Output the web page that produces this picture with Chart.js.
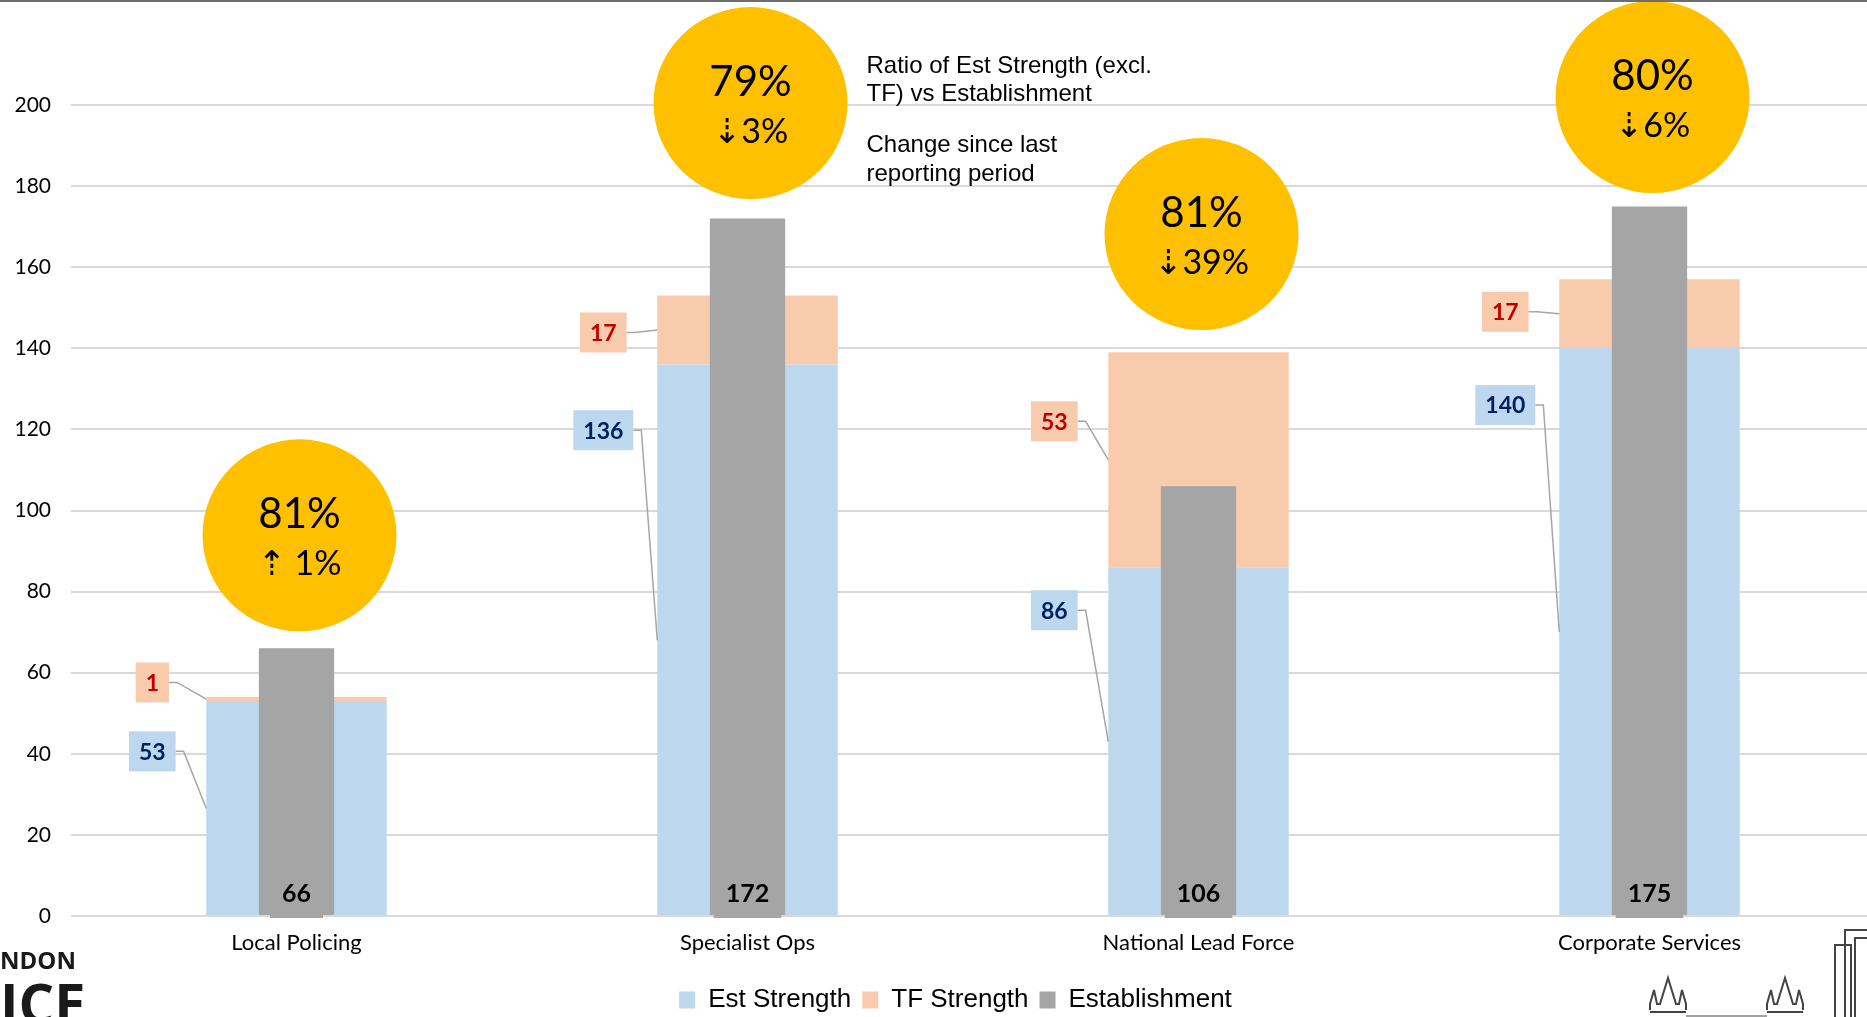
<!DOCTYPE html>
<html>
<head>
<meta charset="utf-8">
<script src="https://cdn.jsdelivr.net/npm/chart.js@4.4.0/dist/chart.umd.min.js"></script>
<style>
  html, body { margin: 0; padding: 0; background: #fff; overflow: hidden; }
  #wrap { position: relative; width: 1880px; height: 1017px; }
  #topline { position: absolute; left: 0; top: 0; width: 1867px; height: 2px; background: #6d6d6d; }
  .logo { position: absolute; left: 0; font-family: "Open Sans", sans-serif; font-weight: 700; color: #1a1a1a; line-height: 1; }
  #deco { position: absolute; left: 1640px; top: 920px; }
</style>
</head>
<body>
<div id="wrap">
  <canvas id="strengthChart"></canvas>
  <div id="topline"></div>
  <div class="logo" style="top:948px;font-size:24px;">NDON</div>
  <div class="logo" style="top:974px;font-size:56px;">ICE</div>
  <svg id="deco" width="227" height="97" fill="none" stroke="#444" stroke-width="2">
    <polyline points="10,90 10,84 14,70 17,84 20,84 28,58 36,84 39,84 42,70 46,84 46,90" />
    <line x1="10" y1="92" x2="46" y2="92" />
    <polyline points="127,90 127,84 131,70 134,84 137,84 145,58 153,84 156,84 159,70 163,84 163,90" />
    <line x1="127" y1="92" x2="163" y2="92" />
    <line x1="46" y1="96" x2="127" y2="96" stroke-width="1" />
    <polyline points="195,97 195,25 211,25 211,97" />
    <polyline points="205,97 205,10 227,10" />
    <polyline points="215,97 215,18 227,18" />
  </svg>
</div>
<script>
// values
const categories = ["Local Policing", "Specialist Ops", "National Lead Force", "Corporate Services"];
const estStrength = [53, 136, 86, 140];
const tfStrength = [1, 17, 53, 17];
const establishment = [66, 172, 106, 175];
const ratioText = ["81%", "79%", "81%", "80%"];
const changeText = ["\u21E1 1%", "\u21E33%", "\u21E339%", "\u21E36%"];
// where the callout boxes and bubbles sit, in axis units
const estLabelAt = [40.6, 119.8, 75.4, 126];
const tfLabelAt = [57.6, 143.9, 122, 149];
const bubbleBase = [70.2, 176.8, 144.5, 178.3];

Chart.defaults.font.family = "Lato, 'DejaVu Sans', sans-serif";

function drawTag(ctx, text, barLeft, cy, anchorY, fill, color) {
  ctx.font = "bold 23px Lato";
  const w = ctx.measureText(text).width + 20;
  const h = 40;
  const cx = barLeft - 54;
  const bx = cx - w / 2;
  ctx.strokeStyle = "#A6A6A6";
  ctx.lineWidth = 1.5;
  ctx.beginPath();
  ctx.moveTo(bx + w, cy);
  ctx.lineTo(bx + w + 8, cy);
  ctx.lineTo(barLeft, anchorY);
  ctx.stroke();
  ctx.fillStyle = fill;
  ctx.fillRect(bx, cy - h / 2, w, h);
  ctx.fillStyle = color;
  ctx.textAlign = "center";
  ctx.textBaseline = "middle";
  ctx.fillText(text, cx, cy + 1);
}

const calloutPlugin = {
  id: "callouts",
  afterLayout(chart) {
    // nudge the legend to where the original sits
    const lg = chart.legend;
    lg.left += 18; lg.right += 18;
    lg.top += 6; lg.bottom += 6;
  },
  afterDatasetsDraw(chart) {
    const ctx = chart.ctx;
    const y = chart.scales.y;
    const estMeta = chart.getDatasetMeta(0);
    const estabMeta = chart.getDatasetMeta(2);
    ctx.save();
    categories.forEach((cat, i) => {
      const bar = estMeta.data[i];
      const left = bar.x - bar.width / 2;
      drawTag(ctx, String(tfStrength[i]), left, y.getPixelForValue(tfLabelAt[i]),
        y.getPixelForValue(estStrength[i] + tfStrength[i] / 2), "#F8CBAD", "#C00000");
      drawTag(ctx, String(estStrength[i]), left, y.getPixelForValue(estLabelAt[i]),
        y.getPixelForValue(estStrength[i] / 2), "#BDD7EE", "#002060");

      // establishment value at the foot of the grey bar
      const g = estabMeta.data[i];
      ctx.font = "bold 25px Lato";
      const tw = ctx.measureText(String(establishment[i])).width + 24;
      ctx.fillStyle = "#A5A5A5";
      ctx.fillRect(g.x - tw / 2, g.base - 43, tw, 46);
      ctx.fillStyle = "#000";
      ctx.textAlign = "center";
      ctx.textBaseline = "middle";
      ctx.fillText(String(establishment[i]), g.x, g.base - 21);

      // ratio bubble
      const rx = 97, ry = 96;
      const cx = bar.x + 3;
      const cy = y.getPixelForValue(bubbleBase[i]) - ry;
      ctx.fillStyle = "#FFC000";
      ctx.beginPath();
      ctx.ellipse(cx, cy, rx, ry, 0, 0, Math.PI * 2);
      ctx.fill();
      ctx.fillStyle = "#000";
      ctx.font = "42px Lato";
      ctx.fillText(ratioText[i], cx, cy - 21);
      ctx.font = "34px Lato, 'DejaVu Sans'";
      ctx.fillText(changeText[i], cx, cy + 29);
    });

    // key for the bubbles
    const so = estMeta.data[1];
    ctx.font = "24px 'Liberation Sans', Arial";
    ctx.textAlign = "left";
    ctx.fillStyle = "#000";
    ctx.fillText("Ratio of Est Strength (excl.", so.x + 119, 66);
    ctx.fillText("TF) vs Establishment", so.x + 119, 94);
    ctx.fillText("Change since last", so.x + 119, 145);
    ctx.fillText("reporting period", so.x + 119, 174);
    ctx.restore();
  }
};

const ctx = document.getElementById("strengthChart").getContext("2d");
new Chart(ctx, {
  type: "bar",
  data: {
    labels: categories,
    datasets: [
      {
        label: "Est Strength",
        data: estStrength,
        backgroundColor: "#BDD7EE",
        stack: "strength",
        grouped: false,
        barPercentage: 0.4,
        categoryPercentage: 1,
        order: 1,
      },
      {
        label: "TF Strength",
        data: tfStrength,
        backgroundColor: "#F8CBAD",
        stack: "strength",
        grouped: false,
        barPercentage: 0.4,
        categoryPercentage: 1,
        order: 1,
      },
      {
        label: "Establishment",
        data: establishment,
        backgroundColor: "#A5A5A5",
        stack: "estab",
        grouped: false,
        barPercentage: 0.167,
        categoryPercentage: 1,
        order: 0,
      },
    ],
  },
  options: {
    responsive: true,
    maintainAspectRatio: false,
    animation: false,
    layout: { padding: { left: 0, right: 5, top: 105, bottom: 0 } },
    plugins: {
      legend: {
        position: "bottom",
        labels: {
          font: { family: "'Liberation Sans', Arial", size: 26 },
          color: "#000",
          boxWidth: 16,
          boxHeight: 17,
          padding: 11,
          sort: (a, b) => a.datasetIndex - b.datasetIndex,
        },
      },
      tooltip: { enabled: false },
    },
    scales: {
      x: {
        grid: { display: false, drawTicks: false },
        border: { display: false },
        ticks: { font: { size: 22 }, color: "#000", padding: 14 },
        afterFit(axis) { axis.height = 54; },
      },
      y: {
        stacked: true,
        min: 0,
        max: 200,
        ticks: { stepSize: 20, font: { size: 21 }, color: "#000", padding: 20 },
        grid: { color: "#D9D9D9", lineWidth: 2, drawTicks: false },
        border: { display: false },
        afterFit(axis) { axis.width = 71; },
      },
    },
  },
  plugins: [calloutPlugin],
});
</script>
</body>
</html>
